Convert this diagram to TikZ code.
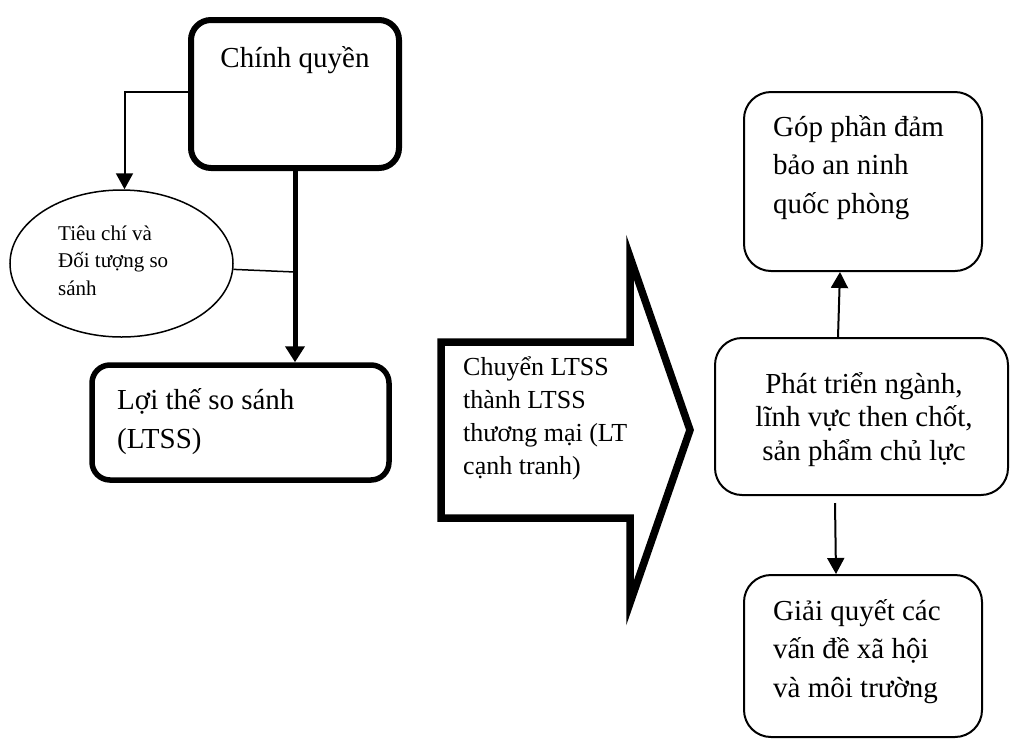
\documentclass[tikz,border=0pt]{standalone}
\usepackage{fontspec}
\setmainfont{Liberation Serif}
\usetikzlibrary{arrows.meta,calc,shapes.geometric}
\begin{document}
\begin{tikzpicture}[x=1pt,y=-1pt,
  thickbox/.style={draw, line width=#1, rounded corners=20pt, inner sep=0pt},
  thinbox/.style={draw, line width=2pt, rounded corners=27pt, inner sep=0pt},
  lbl/.style={inner sep=0pt, align=left, anchor=base west},
  bigtext/.style={font=\fontsize{29}{38.5}\selectfont},
  thinarr/.style={line width=2pt, -{Triangle[length=16pt,width=17pt]}},
  thickarr/.style={line width=5pt, -{Triangle[length=16pt,width=19pt]}}]
\fill[white] (0,0) rectangle (1011,740);
\useasboundingbox (0,0) rectangle (1011,740);

% left column (text nodes are placed at the baseline of their last line)
\node[thickbox=6pt, minimum width=208pt, minimum height=148pt] (cq) at (295,94) {};
\node[inner sep=0pt, anchor=base, bigtext] (cqt) at (295,67) {Chính quyền};

\node[draw, ellipse, line width=1.5pt, inner sep=0pt, minimum width=223pt, minimum height=147pt] (ell) at (121.5,263.5) {};
\node[lbl, font=\fontsize{21}{27.5}\selectfont] (ellt) at (58,295) {Tiêu chí và\\Đối tượng so\\sánh};

\node[thickbox=5.5pt, rounded corners=18pt, minimum width=297pt, minimum height=115pt] (lt) at (240.5,422.5) {};
\node[lbl, bigtext] (ltt) at (117,448) {Lợi thế so sánh\\(LTSS)};

\coordinate (j) at (295,272);
\draw[thinarr] ($(cq.west)+(0,-2)$) -| ($(ell.north)+(3,0)$);
\draw[thickarr] (cq.south) -- (cq.south |- lt.north);
\draw[line width=1.5pt] (ell.-3) -- (j);

% big arrow
\draw[line width=7.5pt, line join=miter, fill=white] (441,342) -- (630,342) -- (630,257) -- (690,430) -- (630,603) -- (630,518) -- (441,518) -- cycle;
\node[lbl, font=\fontsize{26}{33}\selectfont] (art) at (463,474) {Chuyển LTSS\\thành LTSS\\thương mại (LT\\cạnh tranh)};

% right column
\node[thinbox, minimum width=238pt, minimum height=179pt] (top) at (863,181.5) {};
\node[lbl, bigtext] (topt) at (773,213) {Góp phần đảm\\bảo an ninh\\quốc phòng};

\node[thinbox, minimum width=293pt, minimum height=157pt] (mid) at (861.5,416.5) {};
\node[inner sep=0pt, align=center, anchor=base, font=\fontsize{29}{33.5}\selectfont] (midt) at (864,460) {Phát triển ngành,\\lĩnh vực then chốt,\\sản phẩm chủ lực};

\node[thinbox, minimum width=238pt, minimum height=162pt] (bot) at (863,656) {};
\node[lbl, bigtext] (bott) at (773,697) {Giải quyết các\\vấn đề xã hội\\và môi trường};

\draw[thinarr] ($(mid.north)+(-23.5,0)$) -- ($(top.south)+(-23,0)$);
\draw[thinarr] ($(mid.south)+(-26.5,7)$) -- ($(bot.north)+(-27,0)$);
\end{tikzpicture}
\end{document}
